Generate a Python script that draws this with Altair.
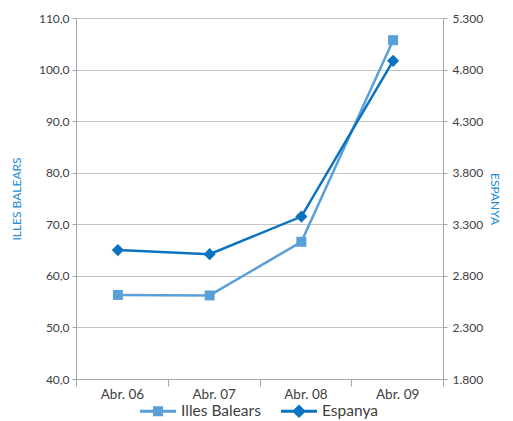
import altair as alt
import pandas as pd

months = ["Abr. 06", "Abr. 07", "Abr. 08", "Abr. 09"]
illes = [56.3, 56.2, 66.6, 105.7]
espanya = [3050, 3010, 3375, 4885]
series_names = ["Illes Balears", "Espanya"]
series_colors = ["#5b9fd8", "#0b72c0"]
left_ticks = [40, 50, 60, 70, 80, 90, 100, 110]
right_ticks = [1800, 2300, 2800, 3300, 3800, 4300, 4800, 5300]

df = pd.DataFrame({"month": months, "illes": illes, "espanya": espanya})
legend_df = pd.DataFrame({"series": series_names, "v": [0, 0]})

FONT = "Lato"
AXC = "#a6a6a6"
TXT = "#404040"
TITLE_C = "#1a8ad6"

color_scale = alt.Scale(domain=series_names, range=series_colors)

x_enc = alt.X(
    "month:N",
    sort=months,
    scale=alt.Scale(type="band", paddingInner=0, paddingOuter=0),
    axis=alt.Axis(
        title=None, tickBand="extent", labelAngle=0, grid=False,
        domainColor=AXC, tickColor=AXC, tickSize=7, labelPadding=1,
        labelFont=FONT, labelFontSize=13.5, labelColor=TXT,
    ),
)

left_y = alt.Y(
    "illes:Q",
    scale=alt.Scale(domain=[40, 110], zero=False, nice=False),
    axis=alt.Axis(
        values=left_ticks,
        labelExpr="replace(format(datum.value, '.1f'), '.', ',')",
        title="ILLES BALEARS", titleColor=TITLE_C, titleFont=FONT,
        titleFontSize=12, titleFontWeight="normal", titlePadding=15,
        grid=True, gridColor="#c4c4c4", domainColor=AXC, tickColor=AXC,
        tickSize=4, labelPadding=3, labelFont=FONT, labelFontSize=12,
        labelColor=TXT,
    ),
)

right_y = alt.Y(
    "espanya:Q",
    scale=alt.Scale(domain=[1800, 5300], zero=False, nice=False),
    axis=alt.Axis(
        orient="right", values=right_ticks,
        labelExpr="replace(format(datum.value, ','), ',', '.')",
        title="ESPANYA", titleColor=TITLE_C, titleFont=FONT,
        titleFontSize=12, titleFontWeight="normal", titlePadding=5,
        grid=False, domainColor=AXC, tickColor=AXC,
        tickSize=4, labelPadding=5, labelFont=FONT, labelFontSize=12,
        labelColor=TXT,
    ),
)

OFF = -4

illes_line = alt.Chart(df).mark_line(strokeWidth=2.5, xOffset=OFF, color=series_colors[0]).encode(
    x=x_enc, y=left_y
)
illes_pts = alt.Chart(df).mark_point(
    shape="square", filled=True, size=100, opacity=1, xOffset=OFF, color=series_colors[0]
).encode(x=x_enc, y=left_y)

esp_line = alt.Chart(df).mark_line(strokeWidth=2.5, xOffset=OFF, color=series_colors[1]).encode(
    x=x_enc, y=right_y
)
esp_pts = alt.Chart(df).mark_point(
    shape="diamond", filled=True, size=150, opacity=1, xOffset=OFF, color=series_colors[1]
).encode(x=x_enc, y=right_y)

sq_path = "M-1,-0.08H1V0.08H-1Z M-0.28,-0.28H0.28V0.28H-0.28Z"
dm_path = "M-1,-0.08H1V0.08H-1Z M0,-0.38L0.38,0L0,0.38L-0.38,0Z"

legend_layer = alt.Chart(legend_df).transform_filter("datum.v > 1").mark_point(
    filled=True, size=1296, opacity=1
).encode(
    color=alt.Color(
        "series:N", scale=color_scale,
        legend=alt.Legend(
            title=None, orient="none", legendX=64, legendY=375,
            direction="horizontal", symbolSize=1296, symbolStrokeWidth=0,
            labelFont=FONT, labelFontSize=15.5, labelColor=TXT,
            labelOffset=5, columnPadding=20, symbolOpacity=1,
        ),
    ),
    shape=alt.Shape("series:N", scale=alt.Scale(domain=series_names, range=[sq_path, dm_path])),
)

chart = alt.layer(
    alt.layer(illes_line, illes_pts),
    alt.layer(esp_line, esp_pts),
    legend_layer,
).resolve_scale(y="independent").properties(
    width=367, height=361,
    autosize=alt.AutoSizeParams(type="none"),
    padding={"left": 68, "top": 10, "right": 62, "bottom": 42},
).configure_view(stroke=None)

chart.save("out.html", embed_options={"renderer": "svg", "actions": False})
